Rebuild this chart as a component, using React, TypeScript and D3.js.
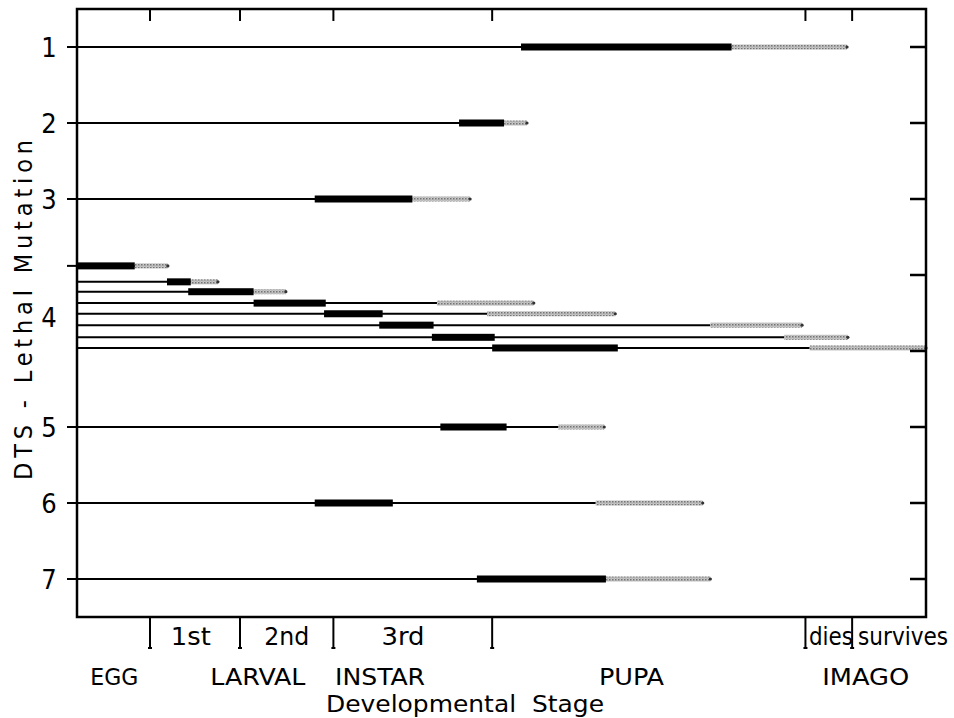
import React from 'react';
import * as d3 from 'd3';

// developmental time in relative units (0 = egg laid, 100 = end of scale)
const stageBounds = [8.6, 19.2, 30.2, 48.9, 85.8, 91.3];
const upperLabels = ['1st', '2nd', '3rd', 'dies', 'survives'];
const upperPos = [13.4, 24.7, 38.4, 88.8, 97.3];
const upperWidth = [40, 45, 43, 44, 90];
const lowerLabels = ['EGG', 'LARVAL', 'INSTAR', 'PUPA', 'IMAGO'];
const lowerPos = [4.4, 21.3, 35.7, 65.3, 92.9];
const lowerWidth = [48, 95, 90, 65, 87];

const mutationLabels = ['1', '2', '3', '4', '5', '6', '7'];
const mutationLabelPos = [0, 1, 2, 3.55, 5, 6, 7];

// one entry per allele line
const rowPos = [0, 1, 2, 2.88, 3.09, 3.22, 3.37, 3.51, 3.66, 3.82, 3.96, 5, 6, 7];
const blackStart = [52.3, 45.0, 28.0, 0, 10.6, 13.1, 20.8, 29.1, 35.6, 41.8, 48.9, 42.8, 28.0, 47.1];
const blackEnd = [77.1, 50.3, 39.5, 6.8, 13.4, 20.8, 29.3, 36.0, 42.0, 49.2, 63.7, 50.6, 37.2, 62.3];
const grayStart = [77.1, 50.3, 39.5, 6.8, 13.4, 20.8, 42.4, 48.3, 74.6, 83.3, 86.3, 56.7, 61.1, 62.3];
const grayEnd = [90.7, 53.0, 46.3, 10.7, 16.6, 24.6, 53.8, 63.4, 85.4, 90.8, 100, 62.1, 73.7, 74.6];

const rightTicks = [0, 1, 2, 3, 4, 5, 6, 7];
const leftTicks = [0, 1, 2, 2.88, 5, 6, 7];

const font = '"DejaVu Sans Condensed", "DejaVu Sans", sans-serif';

export default function App() {
  const width = 954;
  const height = 718;
  const left = 77, right = 926, top = 9, bottom = 617;

  const x = d3.scaleLinear().domain([0, 100]).range([left, right]);
  const y = d3.scaleLinear().domain([-0.5, 7.5]).range([top, bottom]);

  const rows = rowPos.map((p, i) => ({
    y: y(p),
    b0: blackStart[i],
    b1: blackEnd[i],
    g0: grayStart[i],
    g1: grayEnd[i],
  }));

  return (
    <svg width={width} height={height} style={{ position: 'absolute', left: 0, top: 0, background: '#fff' }}>
      <defs>
        <pattern id="stip" width={3} height={3} patternUnits="userSpaceOnUse">
          <rect width={3} height={3} fill="#c8c8c8" />
          <rect x={0} y={0} width={1.5} height={1.5} fill="#737373" />
          <rect x={1.5} y={1.5} width={1} height={1} fill="#959595" />
        </pattern>
      </defs>

      {/* allele lines */}
      {rows.map((r, i) => (
        <g key={i}>
          <line x1={left} x2={x(r.g0)} y1={r.y} y2={r.y} stroke="#000" strokeWidth={2} />
          <rect x={x(r.g0)} y={r.y - 2.5} width={x(r.g1) - x(r.g0)} height={5} fill="url(#stip)" />
          <circle cx={x(r.g1)} cy={r.y} r={1.6} fill="#333" />
          <rect x={x(r.b0)} y={r.y - 3.5} width={x(r.b1) - x(r.b0)} height={7} fill="#000" />
        </g>
      ))}

      {/* frame */}
      <rect x={left} y={top} width={right - left} height={bottom - top} fill="none" stroke="#000" strokeWidth={2.5} />

      {/* top stage ticks */}
      {stageBounds.map((b, i) => (
        <line key={'t' + i} x1={x(b)} x2={x(b)} y1={top} y2={top + 12} stroke="#000" strokeWidth={2} />
      ))}

      {/* bottom stage ticks */}
      {stageBounds.map((b, i) => (
        <g key={'b' + i}>
          <line x1={x(b)} x2={x(b)} y1={bottom} y2={bottom + 31} stroke="#000" strokeWidth={2} />
          <line x1={x(b) - 2} x2={x(b) + 2} y1={bottom + 31} y2={bottom + 31} stroke="#000" strokeWidth={2} />
        </g>
      ))}

      {/* right ticks */}
      {rightTicks.map((t, i) => (
        <line key={'r' + i} x1={right - 16} x2={right} y1={y(t)} y2={y(t)} stroke="#000" strokeWidth={2.5} />
      ))}

      {/* left ticks */}
      {leftTicks.map((t, i) => (
        <line key={'l' + i} x1={left - 10} x2={left} y1={y(t)} y2={y(t)} stroke="#000" strokeWidth={2} />
      ))}

      {/* mutation labels */}
      {mutationLabels.map((m, i) => (
        <text key={'m' + i} x={49} y={y(mutationLabelPos[i])} dy="0.36em" textAnchor="middle"
          fontFamily={font} fontSize={27} fill="#000">{m}</text>
      ))}

      <text transform={`translate(23, ${310}) rotate(-90)`} textAnchor="middle" dy="0.36em"
        fontFamily={font} fontSize={25} fill="#000" textLength={340} lengthAdjust="spacing">DTS - Lethal Mutation</text>

      {/* stage labels */}
      {upperLabels.map((s, i) => (
        <text key={'u' + i} x={x(upperPos[i])} y={645} textAnchor="middle"
          fontFamily={font} fontSize={24} fill="#000" textLength={upperWidth[i]} lengthAdjust="spacingAndGlyphs">{s}</text>
      ))}
      {lowerLabels.map((s, i) => (
        <text key={'w' + i} x={x(lowerPos[i])} y={685} textAnchor="middle"
          fontFamily={font} fontSize={23} fill="#000" textLength={lowerWidth[i]} lengthAdjust="spacingAndGlyphs">{s}</text>
      ))}

      <text x={465} y={712} textAnchor="middle" fontFamily={font} fontSize={23} fill="#000"
        textLength={278} lengthAdjust="spacingAndGlyphs" style={{ whiteSpace: 'pre' }}>{'Developmental  Stage'}</text>
    </svg>
  );
}
